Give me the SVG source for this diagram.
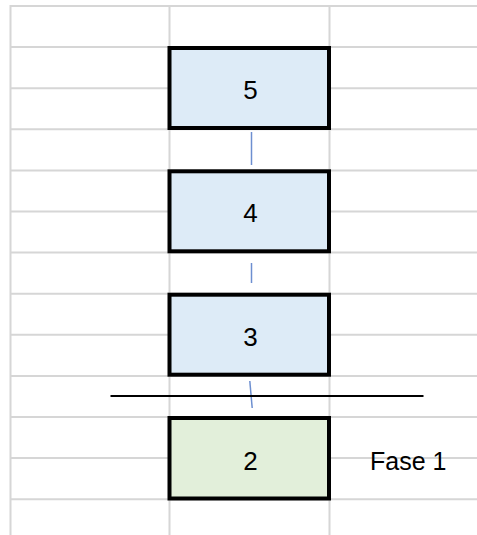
<svg xmlns="http://www.w3.org/2000/svg" width="477" height="535" viewBox="0 0 477 535">
  <style>
    .grid line { stroke: #d6d6d6; stroke-width: 2; }
    .box { stroke: #000; stroke-width: 4; }
    .blue { fill: #ddebf7; }
    .green { fill: #e2efda; }
    .lbl { font-family: "Liberation Sans", Arial, sans-serif; font-size: 25px; fill: #000; }
    .num { font-size: 26px; }
    .link { stroke: #6d8fd0; stroke-width: 1.5; }
  </style>
  <rect width="477" height="535" fill="#fff"/>

  <!-- worksheet cell grid -->
  <g class="grid">
    <line x1="10.5" y1="6" x2="477" y2="6"/>
    <line x1="10.5" y1="47.1" x2="477" y2="47.1"/>
    <line x1="10.5" y1="88.2" x2="477" y2="88.2"/>
    <line x1="10.5" y1="129.3" x2="477" y2="129.3"/>
    <line x1="10.5" y1="170.4" x2="477" y2="170.4"/>
    <line x1="10.5" y1="211.5" x2="477" y2="211.5"/>
    <line x1="10.5" y1="252.6" x2="477" y2="252.6"/>
    <line x1="10.5" y1="293.7" x2="477" y2="293.7"/>
    <line x1="10.5" y1="334.8" x2="477" y2="334.8"/>
    <line x1="10.5" y1="375.9" x2="477" y2="375.9"/>
    <line x1="10.5" y1="417" x2="477" y2="417"/>
    <line x1="10.5" y1="458.1" x2="477" y2="458.1"/>
    <line x1="10.5" y1="499.2" x2="477" y2="499.2"/>
    <line x1="10.5" y1="5" x2="10.5" y2="535"/>
    <line x1="169.5" y1="5" x2="169.5" y2="535"/>
    <line x1="329.5" y1="5" x2="329.5" y2="535"/>
  </g>

  <!-- connectors between stacked levels -->
  <g id="connectors">
    <line class="link" x1="251.5" y1="132" x2="251.5" y2="165"/>
    <line class="link" x1="251.5" y1="263" x2="251.5" y2="283"/>
    <line class="link" x1="249.8" y1="381" x2="252.2" y2="408"/>
  </g>

  <!-- phase divider -->
  <line x1="110.5" y1="396" x2="423.5" y2="396" stroke="#000" stroke-width="2.2"/>

  <g id="node-5">
    <rect class="box blue" x="169.5" y="48" width="159.5" height="80"/>
    <text class="lbl num" x="250.5" y="99" text-anchor="middle">5</text>
  </g>
  <g id="node-4">
    <rect class="box blue" x="169.5" y="171.3" width="159.5" height="80"/>
    <text class="lbl num" x="250.5" y="222" text-anchor="middle">4</text>
  </g>
  <g id="node-3">
    <rect class="box blue" x="169.5" y="294.7" width="159.5" height="80"/>
    <text class="lbl num" x="250.5" y="345.5" text-anchor="middle">3</text>
  </g>
  <g id="node-2">
    <rect class="box green" x="169.5" y="418" width="159.5" height="80.5"/>
    <text class="lbl num" x="250.5" y="470" text-anchor="middle">2</text>
  </g>

  <text class="lbl" x="370" y="470">Fase 1</text>
</svg>
